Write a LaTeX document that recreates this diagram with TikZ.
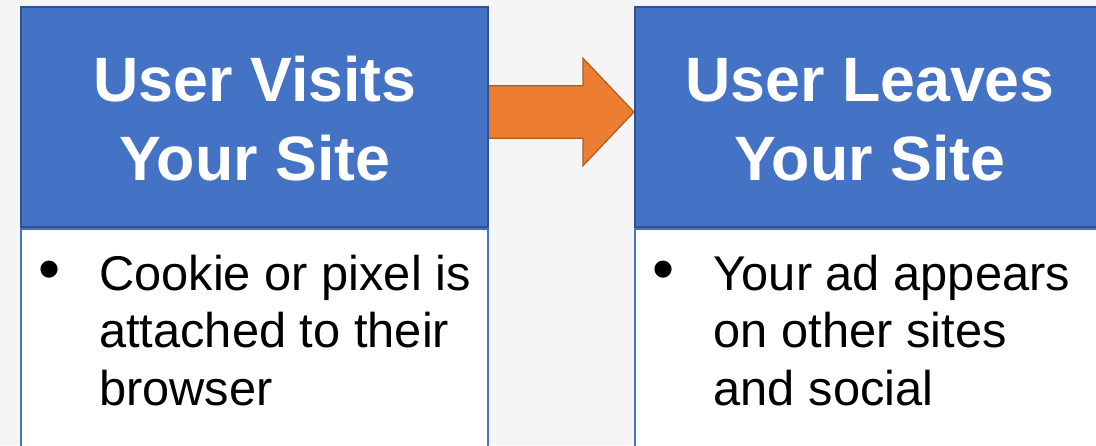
\documentclass[tikz,border=0pt]{standalone}
\usepackage{fontspec}
\setmainfont{Liberation Sans}
\usetikzlibrary{calc,backgrounds}
\definecolor{pagebg}{HTML}{F5F5F5}
\definecolor{hdrfill}{HTML}{4472C4}
\definecolor{hdredge}{HTML}{2F528F}
\definecolor{arrfill}{HTML}{ED7D31}
\definecolor{arredge}{HTML}{AE5A21}
\newcommand{\bigbullet}{{\fontsize{63}{63}\selectfont\textbullet}}
\begin{document}
\begin{tikzpicture}[x=1pt,y=-1pt,
  header/.style={draw=hdredge, fill=hdrfill, line width=2pt,
    minimum width=466.5pt, minimum height=220.5pt, inner sep=0pt},
  bodybox/.style={draw=hdrfill, fill=white, line width=2pt,
    minimum width=466.5pt, minimum height=240pt, inner sep=0pt},
  hdrtext/.style={text=white, inner sep=0pt, anchor=base,
    font=\fontsize{62.7}{79}\selectfont\bfseries},
  bodytext/.style={text=black, inner sep=0pt, anchor=base west,
    font=\fontsize{48.8}{57.6}\selectfont},
  flowarrow/.style={draw=arredge, fill=arrfill, line width=1.2pt, line join=miter}]

\useasboundingbox (0,0) rectangle (1096,445);

% step boxes: blue title on top, white body below
\node[bodybox, anchor=north west] (b1) at (20,228) {};
\node[bodybox, anchor=north west] (b2) at (634,228) {};
\node[header, anchor=south west] (h1) at (b1.north west) {};
\node[header, anchor=south west] (h2) at (b2.north west) {};

% canvas and arrow sit behind the boxes
\begin{scope}[on background layer]
  \fill[pagebg] (0,0) rectangle (1096,445);
  \coordinate (as) at ($(h1.east)+(0,-4.75)$);
  \coordinate (ae) at ($(h2.west)+(0,-4.75)$);
  \draw[flowarrow] ($(as)+(0,-26.2)$) -- ($(ae)+(-51,-26.2)$) -- ($(ae)+(-51,-53.7)$)
    -- (ae) -- ($(ae)+(-51,53.7)$) -- ($(ae)+(-51,26.2)$) -- ($(as)+(0,26.2)$) -- cycle;
\end{scope}

% header titles
\node[hdrtext] (t1) at ($(h1.north)+(0.75,95.5)$)
  {\begin{tabular}[t]{@{}c@{}}User Visits\\Your Site\end{tabular}};
\node[hdrtext] (t2) at ($(h2.north)+(1.75,95.5)$)
  {\begin{tabular}[t]{@{}c@{}}User Leaves\\Your Site\end{tabular}};

% bullet texts
\node[bodytext] (l1) at ($(b1.north west)+(18,62)$)
  {\begin{tabular}[t]{@{}p{61pt}@{}l@{}}\bigbullet & Cookie or pixel is\\
   & attached to their\\ & browser\end{tabular}};
\node[bodytext] (l2) at ($(b2.north west)+(18.5,62)$)
  {\begin{tabular}[t]{@{}p{61pt}@{}l@{}}\bigbullet & Your ad appears\\
   & on other sites\\ & and social\end{tabular}};
\end{tikzpicture}
\end{document}
